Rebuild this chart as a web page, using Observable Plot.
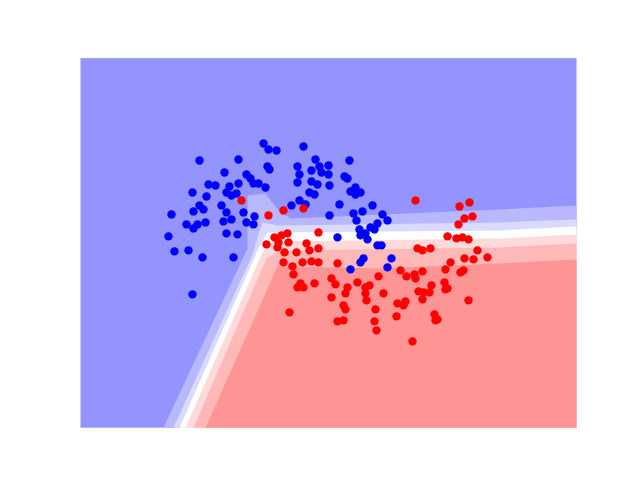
<!DOCTYPE html>
<html>
<head>
<meta charset="utf-8">
<script src="https://cdn.jsdelivr.net/npm/d3@7"></script>
<script src="https://cdn.jsdelivr.net/npm/@observablehq/plot@0.6"></script>
<style>
  html, body { margin: 0; padding: 0; background: #ffffff; }
  #chart { width: 640px; height: 480px; }
</style>
</head>
<body>
<div id="chart"></div>
<script>
// Class 0 (blue) points
const blueX = [-0.17,-0.12,-0.04,-0.81,-0.42,-0.13,-0.11,-0.56,-0.34,-0.30,-0.27,-0.22,-0.15,-0.72,-0.65,-0.51,-0.42,-0.88,-0.74,-0.54,-0.49,-0.44,-0.81,-0.77,-0.59,-0.87,-1.09,-0.54,-0.37,-0.26,-0.94,-0.87,-0.83,-0.75,-0.57,-0.49,-0.34,-0.27,-1.12,-0.54,-0.43,-1.06,-0.92,-0.78,-0.47,-0.88,
  0.23,0.35,0.69,0.17,0.39,0.48,0.31,0.41,0.48,0.19,0.64,0.67,0.17,0.31,0.37,0.49,0.75,0.29,0.34,0.70,0.75,0.80,0.19,0.25,0.11,0.59,0.92,0.73,0.82,1.02,0.49,0.76,0.97,0.94,0.90,0.79,0.85,0.80,0.87,0.57,0.97,1.01,1.07,0.83,0.80,0.70,1.07,1.11];
const blueY = [1.32,1.26,1.25,1.15,1.16,1.09,1.06,1.03,1.01,0.97,0.92,0.92,0.88,0.91,0.90,0.89,0.92,0.83,0.79,0.83,0.80,0.82,0.70,0.66,0.70,0.64,0.61,0.63,0.63,0.59,0.51,0.47,0.51,0.53,0.54,0.56,0.53,0.51,0.39,0.42,0.41,0.24,0.25,0.18,0.18,-0.19,
  1.29,1.16,1.15,1.09,1.09,1.10,1.05,1.03,1.01,1.01,0.99,0.97,0.93,0.94,0.91,0.90,0.88,0.83,0.81,0.84,0.81,0.83,0.75,0.71,0.70,0.71,0.70,0.62,0.64,0.61,0.60,0.55,0.52,0.46,0.48,0.46,0.42,0.40,0.36,0.38,0.30,0.30,0.55,0.17,0.13,0.06,0.08,0.17];

// Class 1 (red) points
const redX = [-0.39,-0.12,0.03,0.23,0.38,-0.14,-0.06,0.01,0.07,-0.02,0.08,-0.03,0.04,0.16,0.26,0.29,0.38,0.03,0.12,0.22,0.31,0.38,0.57,0.13,0.17,0.20,0.23,0.34,0.51,0.55,0.67,0.65,0.51,0.77,0.85,0.89,0.85,0.86,0.98,1.03,0.63,0.65,0.09,0.57,0.63,0.95,0.94,0.96,
  1.20,1.26,1.34,1.35,1.42,1.65,1.80,1.83,1.51,1.64,1.65,1.67,1.38,1.43,1.49,1.17,1.23,1.25,1.42,1.88,1.16,1.54,1.55,1.57,1.32,1.35,1.79,1.89,1.84,1.92,1.78,1.67,1.76,1.82,1.88,1.97,2.07,1.37,1.42,1.50,1.70,1.84,1.93];
const redY = [0.75,0.60,0.65,0.67,0.43,0.31,0.38,0.40,0.42,0.33,0.33,0.28,0.23,0.23,0.32,0.25,0.27,0.13,0.09,0.13,0.14,0.13,0.12,0.01,-0.12,-0.08,-0.12,-0.08,-0.03,-0.09,-0.12,-0.18,-0.22,-0.07,-0.12,-0.10,-0.18,-0.25,-0.01,-0.18,-0.30,-0.34,-0.37,-0.46,-0.45,-0.34,-0.46,-0.55,
  0.05,-0.01,0.01,-0.03,0.04,0.06,0.03,0.05,-0.10,-0.07,-0.14,-0.13,-0.16,-0.17,-0.17,-0.28,-0.30,-0.26,-0.24,-0.25,-0.41,-0.39,-0.45,-0.44,-0.66,0.75,0.69,0.73,0.57,0.59,0.51,0.39,0.37,0.38,0.36,0.25,0.18,0.27,0.25,0.27,0.13,0.17,0.16];

// Decision-function contour boundaries (from blue side to red side)
const boundary1 = [[-1.17,-1.524],[-0.33,0.27],[-0.33,0.80],[-0.15,0.82],[-0.02,0.65],[0.10,0.57],[2.20,0.66],[2.96,0.70]];
const boundary2 = [[-1.07,-1.524],[-0.28,0.21],[-0.18,0.53],[-0.02,0.50],[2.20,0.53],[2.96,0.56]];
const boundary3 = [[-1.01,-1.524],[-0.22,0.27],[-0.13,0.43],[2.20,0.45],[2.96,0.49]];
const boundary4 = [[-0.95,-1.524],[-0.18,0.23],[-0.08,0.34],[2.20,0.37],[2.96,0.41]];
const boundary5 = [[-0.87,-1.524],[-0.14,0.17],[0.00,0.25],[2.20,0.28],[2.96,0.32]];
const boundary6 = [[-0.75,-1.524],[-0.03,0.09],[1.00,0.07],[2.20,0.12],[2.96,0.16]];

const bandColors = ["#9494ff","#b8b8ff","#dadaff","#ffffff","#ffdada","#ffb8b8","#ff9494"];
const xDomain = [-2.0, 2.96];
const yDomain = [-1.524, 2.174];

const boundaries = [boundary1, boundary2, boundary3, boundary4, boundary5, boundary6];
const cornerBR = [xDomain[1], yDomain[0]];

const bandMarks = boundaries.map((b, i) => {
  const poly = b.concat([cornerBR]).map(([x, y]) => ({x, y}));
  return Plot.line(poly, {x: "x", y: "y", fill: bandColors[i + 1], stroke: "none", curve: "linear"});
});

const blue = blueX.map((x, i) => ({x, y: blueY[i]}));
const red = redX.map((x, i) => ({x, y: redY[i]}));

const chart = Plot.plot({
  width: 640,
  height: 480,
  marginLeft: 80,
  marginRight: 64,
  marginTop: 57.6,
  marginBottom: 52.8,
  x: {domain: xDomain, axis: null},
  y: {domain: yDomain, axis: null},
  style: {background: "#ffffff"},
  marks: [
    Plot.frame({fill: bandColors[0], stroke: "none"}),
    ...bandMarks,
    Plot.dot(blue, {x: "x", y: "y", r: 4.2, fill: "#0000ff", stroke: "none"}),
    Plot.dot(red, {x: "x", y: "y", r: 4.2, fill: "#ff0000", stroke: "none"})
  ]
});
document.getElementById("chart").appendChild(chart);
</script>
</body>
</html>
